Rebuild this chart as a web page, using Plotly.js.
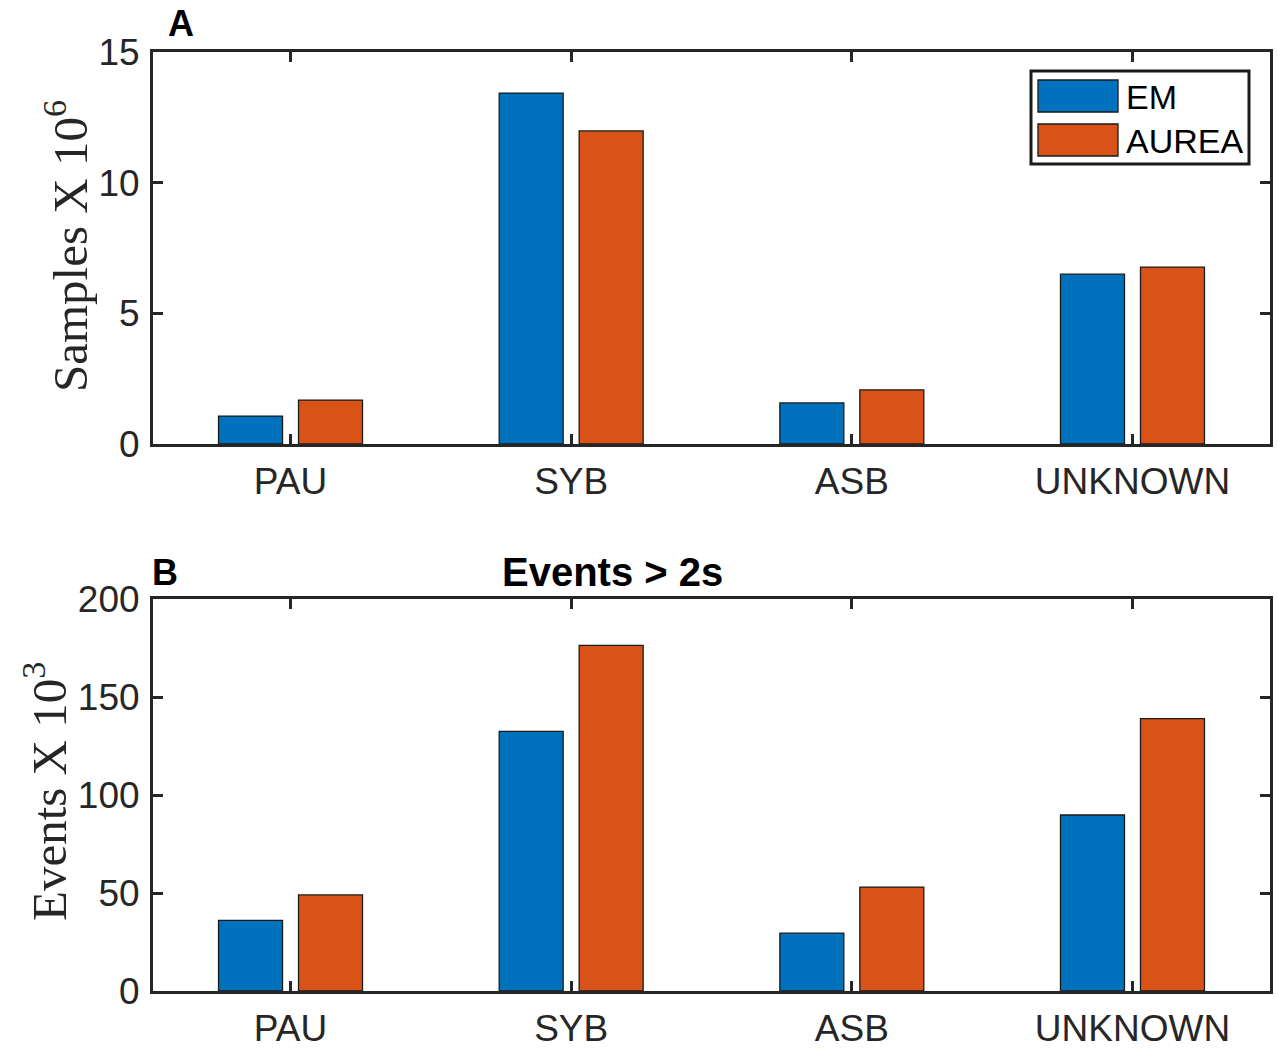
<!DOCTYPE html>
<html>
<head>
<meta charset="utf-8">
<script src="https://cdn.plot.ly/plotly-3.0.1.min.js"></script>
<style>html,body{margin:0;padding:0;background:#fff;}#chart{width:1278px;height:1049px;}</style>
</head>
<body>
<div id="chart"></div>
<script>
// ---- data ----
const categories = ["PAU", "SYB", "ASB", "UNKNOWN"];
const seriesNames = ["EM", "AUREA"];
const samplesEM = [1.07, 13.43, 1.57, 6.50];      // Samples x 10^6
const samplesAUREA = [1.68, 11.98, 2.07, 6.77];
const eventsEM = [36.0, 132.5, 29.5, 89.8];       // Events x 10^3
const eventsAUREA = [49.0, 176.3, 53.0, 139.0];
const samplesTicks = [0, 5, 10, 15];
const eventsTicks = [0, 50, 100, 150, 200];

// ---- style ----
const W = 1278, H = 1049;
const colEM = "#0072BD", colAU = "#D95319";
const axCol = "#262626";
const px = x => x / W;
const py = y => 1 - y / H;

function bar(x, y, name, color, xa, ya) {
  return {type: "bar", x: x, y: y, name: name, xaxis: xa, yaxis: ya, showlegend: false,
    marker: {color: color, line: {color: "#1a1a1a", width: 1.3}}, hoverinfo: "x+y+name"};
}
const traces = [
  bar(categories, samplesEM, seriesNames[0], colEM, "x", "y"),
  bar(categories, samplesAUREA, seriesNames[1], colAU, "x", "y"),
  bar(categories, eventsEM, seriesNames[0], colEM, "x2", "y2"),
  bar(categories, eventsAUREA, seriesNames[1], colAU, "x2", "y2")
];

const tickFont = {family: "Liberation Sans, Arial, sans-serif", size: 37, color: axCol};
function xax(anchor) {
  return {domain: [px(153), px(1270)], anchor: anchor, type: "category",
    range: [-0.49, 3.49], showline: true, linecolor: axCol, linewidth: 3, mirror: "ticks",
    ticks: "inside", ticklen: 10, tickwidth: 3, tickcolor: axCol, tickfont: tickFont,
    ticklabelstandoff: 3, showgrid: false, zeroline: false, fixedrange: true};
}
function yax(anchor, dom, range, tv) {
  return {domain: dom, anchor: anchor, range: range, tickvals: tv, ticktext: tv.map(String),
    showline: true, linecolor: axCol, linewidth: 3, mirror: "ticks",
    ticks: "inside", ticklen: 10, tickwidth: 3, tickcolor: axCol, tickfont: tickFont,
    ticklabelstandoff: 3, showgrid: false, zeroline: false, fixedrange: true};
}

const serif = {family: "Liberation Serif, Times New Roman, serif", size: 49, color: axCol};
const boldF = {family: "Liberation Sans, Arial, sans-serif", size: 36, color: "#000", weight: "bold"};
const titleF = {family: "Liberation Sans, Arial, sans-serif", size: 40, color: "#000", weight: "bold"};
const legF = {family: "Liberation Sans, Arial, sans-serif", size: 34, color: "#000"};

const annotations = [
  {text: "Samples X 10<sup>6</sup>", x: px(66), y: py(246), xref: "paper", yref: "paper",
   textangle: -90, showarrow: false, font: serif, xanchor: "center", yanchor: "middle"},
  {text: "Events X 10<sup>3</sup>", x: px(45), y: py(792), xref: "paper", yref: "paper",
   textangle: -90, showarrow: false, font: serif, xanchor: "center", yanchor: "middle"},
  {text: "<b>A</b>", x: px(181), y: py(24), xref: "paper", yref: "paper", showarrow: false,
   font: boldF, xanchor: "center", yanchor: "middle"},
  {text: "<b>B</b>", x: px(165), y: py(572), xref: "paper", yref: "paper", showarrow: false,
   font: boldF, xanchor: "center", yanchor: "middle"},
  {text: "<b>Events > 2s</b>", x: px(612), y: py(572), xref: "paper", yref: "paper", showarrow: false,
   font: titleF, xanchor: "center", yanchor: "middle"},
  {text: seriesNames[0], x: px(1124), y: py(97), xref: "paper", yref: "paper", showarrow: false,
   font: legF, xanchor: "left", yanchor: "middle"},
  {text: seriesNames[1], x: px(1124), y: py(141), xref: "paper", yref: "paper", showarrow: false,
   font: legF, xanchor: "left", yanchor: "middle"}
];

const shapes = [
  {type: "rect", xref: "paper", yref: "paper", x0: px(1031), x1: px(1249), y0: py(71), y1: py(164),
   line: {color: "#1a1a1a", width: 3}, fillcolor: "#fff", layer: "above"},
  {type: "rect", xref: "paper", yref: "paper", x0: px(1038), x1: px(1118), y0: py(80), y1: py(112),
   line: {color: "#1a1a1a", width: 1.3}, fillcolor: colEM, layer: "above"},
  {type: "rect", xref: "paper", yref: "paper", x0: px(1038), x1: px(1118), y0: py(124), y1: py(156),
   line: {color: "#1a1a1a", width: 1.3}, fillcolor: colAU, layer: "above"}
];

const layout = {
  width: W, height: H, margin: {l: 0, r: 0, t: 0, b: 0},
  paper_bgcolor: "#fff", plot_bgcolor: "#fff",
  barmode: "group", bargap: 0.43, bargroupgap: 0.2,
  xaxis: xax("y"), yaxis: yax("x", [py(444), py(52)], [0, 15], samplesTicks),
  xaxis2: xax("y2"), yaxis2: yax("x2", [py(991), py(599)], [0, 200], eventsTicks),
  annotations: annotations, shapes: shapes, showlegend: false
};

Plotly.newPlot("chart", traces, layout, {displayModeBar: false, staticPlot: true});
</script>
</body>
</html>
